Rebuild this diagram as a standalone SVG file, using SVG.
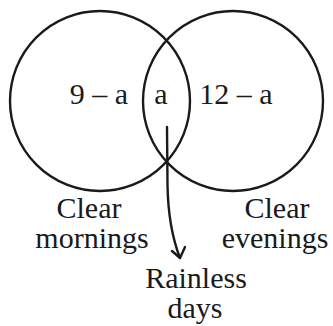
<svg xmlns="http://www.w3.org/2000/svg" width="333" height="326" viewBox="0 0 333 326">
<style>
.c{fill:none;stroke:#1a1a1a;stroke-width:2.4}
.t{font-size:30px;fill:#1a1a1a;text-anchor:middle}
.a{fill:none;stroke:#1a1a1a;stroke-width:2.4;stroke-linecap:round;stroke-linejoin:round}
</style>
<rect width="333" height="326" fill="#fff"/>
<g font-family="Liberation Serif, DejaVu Serif, serif">
<g id="clear-mornings">
<circle class="c" cx="100" cy="101" r="90"/>
<text class="t" x="99" y="104" font-family="Liberation Serif, serif">9 – a</text>
<text class="t" x="89" y="218" font-family="Liberation Serif, serif">Clear</text>
<text class="t" x="92" y="248" font-family="Liberation Serif, serif">mornings</text>
</g>
<g id="clear-evenings">
<circle class="c" cx="233" cy="101" r="90"/>
<text class="t" x="236" y="104" font-family="Liberation Serif, serif">12 – a</text>
<text class="t" x="277" y="218" font-family="Liberation Serif, serif">Clear</text>
<text class="t" x="275" y="248" font-family="Liberation Serif, serif">evenings</text>
</g>
<g id="intersection">
<text class="t" x="161" y="104" font-family="Liberation Serif, serif">a</text>
</g>
<g id="rainless-days">
<text class="t" x="196" y="288" font-family="Liberation Serif, serif">Rainless</text>
<text class="t" x="195" y="318" font-family="Liberation Serif, serif">days</text>
</g>
</g>
<g id="connectors">
<path class="a" d="M167,127 L167.5,185 C168,215 173,240 180,258"/>
<path class="a" d="M172,251 L180,258 L185,247"/>
</g>
</svg>
